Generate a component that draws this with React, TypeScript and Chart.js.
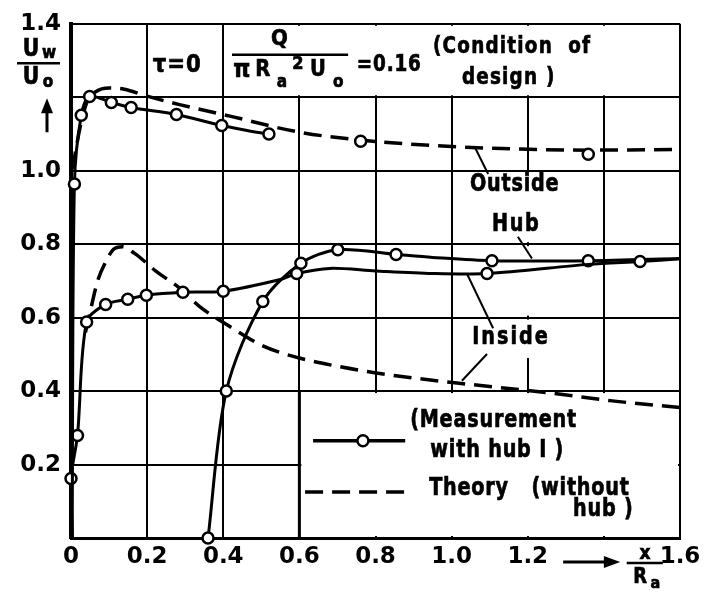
import React, { useEffect, useRef } from 'react';
import { Chart, registerables } from 'chart.js';

Chart.register(...registerables);

// ---- data ----
const outsideMeasX = [0.003, 0.009, 0.027, 0.049, 0.106, 0.158, 0.277, 0.396, 0.52, 0.761, 1.359];
const outsideMeasY = [0.0, 0.964, 1.151, 1.202, 1.186, 1.172, 1.153, 1.123, 1.1, 1.08, 1.045];
const outsideMeasMark = [0, 1, 1, 1, 1, 1, 1, 1, 1, 1, 1];

const insideMeasX = [0.004, 0.0, 0.017, 0.041, 0.091, 0.149, 0.198, 0.294, 0.4, 0.55, 0.593, 0.68, 0.8, 0.95, 1.093, 1.36, 1.495, 1.6];
const insideMeasY = [0.0, 0.162, 0.279, 0.588, 0.636, 0.65, 0.661, 0.669, 0.672, 0.704, 0.72, 0.734, 0.727, 0.72, 0.72, 0.745, 0.753, 0.76];
const insideMeasMark = [0, 1, 1, 1, 1, 1, 1, 1, 1, 0, 1, 0, 0, 0, 1, 0, 1, 0];

const hubMeasX = [0.36, 0.408, 0.504, 0.604, 0.701, 0.854, 0.95, 1.106, 1.359, 1.6];
const hubMeasY = [0.0, 0.4, 0.644, 0.748, 0.785, 0.772, 0.764, 0.755, 0.755, 0.761];
const hubMeasMark = [1, 1, 1, 1, 1, 1, 0, 1, 1, 0];

const theoryOutX = [0.0, 0.006, 0.015, 0.028, 0.043, 0.065, 0.1, 0.14, 0.2, 0.285, 0.42, 0.6, 0.764, 0.943, 1.109, 1.359, 1.6];
const theoryOutY = [0.93, 1.01, 1.07, 1.137, 1.19, 1.215, 1.225, 1.222, 1.203, 1.18, 1.148, 1.105, 1.083, 1.069, 1.061, 1.056, 1.058];

const theoryInX = [0.038, 0.049, 0.07, 0.088, 0.114, 0.135, 0.167, 0.224, 0.286, 0.338, 0.408, 0.504, 0.6, 0.698, 0.798, 0.898, 1.014, 1.258, 1.416, 1.6];
const theoryInY = [0.56, 0.61, 0.7, 0.745, 0.788, 0.793, 0.775, 0.726, 0.68, 0.63, 0.582, 0.523, 0.49, 0.468, 0.45, 0.436, 0.422, 0.395, 0.374, 0.355];

const xTickLabels = ['0', '0.2', '0.4', '0.6', '0.8', '1.0', '1.2', '', '1.6'];
const yTickLabels = ['', '0.2', '0.4', '0.6', '0.8', '1.0', '', '1.4'];

const FONT = 'DejaVu Sans';

function pts(xs: number[], ys: number[]) {
  return xs.map((x, i) => ({ x, y: ys[i] }));
}

function txt(ctx: CanvasRenderingContext2D, s: string, x: number, y: number, size: number, align: CanvasTextAlign = 'left', sx = 0.8, spacing = 1) {
  ctx.save();
  ctx.font = `bold ${size}px "${FONT}"`;
  ctx.textAlign = align;
  ctx.textBaseline = 'middle';
  ctx.fillStyle = '#000';
  ctx.strokeStyle = '#000';
  ctx.lineWidth = 0.7;
  (ctx as any).letterSpacing = `${spacing}px`;
  ctx.translate(x, y);
  ctx.scale(sx, 1);
  ctx.fillText(s, 0, 0);
  ctx.strokeText(s, 0, 0);
  ctx.restore();
}

function line(ctx: CanvasRenderingContext2D, x1: number, y1: number, x2: number, y2: number, w = 2, dash: number[] = []) {
  ctx.save();
  ctx.strokeStyle = '#000';
  ctx.lineWidth = w;
  ctx.setLineDash(dash);
  ctx.beginPath();
  ctx.moveTo(x1, y1);
  ctx.lineTo(x2, y2);
  ctx.stroke();
  ctx.restore();
}

function tri(ctx: CanvasRenderingContext2D, p: number[][]) {
  ctx.save();
  ctx.fillStyle = '#000';
  ctx.beginPath();
  ctx.moveTo(p[0][0], p[0][1]);
  ctx.lineTo(p[1][0], p[1][1]);
  ctx.lineTo(p[2][0], p[2][1]);
  ctx.closePath();
  ctx.fill();
  ctx.restore();
}

const overlay = {
  id: 'overlay',
  beforeDatasetsDraw(chart: any) {
    const ctx: CanvasRenderingContext2D = chart.ctx;
    const xs = chart.scales.x, ys = chart.scales.y;
    const X = (v: number) => xs.getPixelForValue(v);
    const Y = (v: number) => ys.getPixelForValue(v);
    ctx.save();
    ctx.fillStyle = '#fff';
    // title area
    ctx.fillRect(X(0.4) + 2, Y(1.4) + 2, X(1.6) - X(0.4) - 4, Y(1.2) - Y(1.4) - 4);
    // legend box
    ctx.fillRect(X(0.6) + 2, Y(0.4) + 2, X(1.6) - X(0.6) - 4, Y(0) - Y(0.4) - 4);
    // gap in 1.2 gridline behind labels
    ctx.fillRect(X(1.2) - 2, Y(1.0) + 2, 4, Y(0.8) - Y(1.0) - 4);
    ctx.fillRect(X(1.2) - 2, Y(0.8) + 2, 4, Y(0.6) - Y(0.8) - 4);
    ctx.fillRect(X(1.2) - 2, Y(0.6) + 2, 4, Y(0.49) - Y(0.6) - 2);
    ctx.restore();
    // thicker legend box left edge
    line(ctx, X(0.6), Y(0.4), X(0.6), Y(0), 3);
  },
  afterDatasetsDraw(chart: any) {
    const ctx: CanvasRenderingContext2D = chart.ctx;
    const xs = chart.scales.x, ys = chart.scales.y;
    const X = (v: number) => xs.getPixelForValue(v);
    const Y = (v: number) => ys.getPixelForValue(v);
    const { left, bottom } = chart.chartArea;

    // title
    txt(ctx, 'τ=0', X(0.215), Y(1.286), 25, 'left', 0.85);
    txt(ctx, 'Q', X(0.549), Y(1.357), 22, 'center', 0.9);
    line(ctx, X(0.423), Y(1.316), X(0.728), Y(1.316), 2.5);
    txt(ctx, 'π', X(0.449), Y(1.273), 24, 'center', 0.9, 0);
    txt(ctx, 'R', X(0.504), Y(1.273), 23, 'center', 0.85, 0);
    txt(ctx, 'a', X(0.554), Y(1.24), 17, 'center', 0.9, 0);
    txt(ctx, '2', X(0.596), Y(1.289), 18, 'center', 0.9, 0);
    txt(ctx, 'U', X(0.649), Y(1.273), 23, 'center', 0.85, 0);
    txt(ctx, 'o', X(0.702), Y(1.24), 17, 'center', 0.9, 0);
    txt(ctx, '=0.16', X(0.751), Y(1.289), 23, 'left', 0.8);
    txt(ctx, '(Condition  of', X(0.951), Y(1.338), 23, 'left', 0.8, 1.5);
    txt(ctx, 'design )', X(1.027), Y(1.251), 23, 'left', 0.8, 1.5);

    // curve labels
    txt(ctx, 'Outside', X(1.048), Y(0.961), 24, 'left', 0.8);
    line(ctx, X(1.061), Y(1.064), X(1.096), Y(0.991), 2);
    txt(ctx, 'Hub', X(1.106), Y(0.853), 24, 'left', 0.8, 2);
    line(ctx, X(1.174), Y(0.82), X(1.211), Y(0.761), 2);
    txt(ctx, 'Inside', X(1.054), Y(0.544), 24, 'left', 0.8, 2.5);
    line(ctx, X(1.109), Y(0.571), X(1.04), Y(0.72), 2);
    line(ctx, X(1.093), Y(0.501), X(1.027), Y(0.428), 2);

    // legend
    line(ctx, X(0.636), Y(0.265), X(0.878), Y(0.265), 3.5);
    ctx.save();
    ctx.beginPath();
    ctx.arc(X(0.767), Y(0.265), 5.5, 0, Math.PI * 2);
    ctx.fillStyle = '#fff';
    ctx.fill();
    ctx.lineWidth = 2.5;
    ctx.strokeStyle = '#000';
    ctx.stroke();
    ctx.restore();
    line(ctx, X(0.615), Y(0.125), X(0.878), Y(0.125), 3.5, [18, 9]);
    txt(ctx, '(Measurement', X(0.891), Y(0.32), 24, 'left', 0.8);
    txt(ctx, 'with hub I )', X(0.944), Y(0.238), 24, 'left', 0.8);
    txt(ctx, 'Theory   (without', X(0.941), Y(0.135), 24, 'left', 0.8);
    txt(ctx, 'hub )', X(1.319), Y(0.076), 24, 'left', 0.8);

    // y-axis title: Uw / Uo with arrow
    const yc = Y(1.2);
    txt(ctx, 'U', left - 40, yc - 47, 24, 'center', 0.85, 0);
    txt(ctx, 'w', left - 22, yc - 44, 17, 'center', 0.9, 0);
    line(ctx, left - 54, yc - 34, left - 11, yc - 34, 2.5);
    txt(ctx, 'U', left - 40, yc - 19, 24, 'center', 0.85, 0);
    txt(ctx, 'o', left - 23, yc - 15, 17, 'center', 0.9, 0);
    line(ctx, left - 24, yc + 35, left - 24, yc + 12, 3);
    tri(ctx, [[left - 24, yc + 1], [left - 30, yc + 16], [left - 18, yc + 16]]);

    // x-axis title: arrow + x / Ra
    const ya = bottom + 24;
    line(ctx, X(1.293), ya, X(1.41), ya, 3);
    tri(ctx, [[X(1.443), ya], [X(1.40), ya - 6], [X(1.40), ya + 6]]);
    txt(ctx, 'x', X(1.508), bottom + 16, 19, 'center', 0.9, 0);
    line(ctx, X(1.46), bottom + 25, X(1.555), bottom + 25, 2.5);
    txt(ctx, 'R', X(1.495), bottom + 40, 21, 'center', 0.85, 0);
    txt(ctx, 'a', X(1.535), bottom + 46, 16, 'center', 0.9, 0);
  },
};

export default function App() {
  const ref = useRef<HTMLCanvasElement>(null);
  useEffect(() => {
    const canvas = ref.current!;
    const tickFont = { family: FONT, size: 23, weight: 'bold' as const };
    const measured = (label: string, xs: number[], ys: number[], mark: number[], extra: any = {}) => ({
      label,
      data: pts(xs, ys),
      borderColor: '#000',
      borderWidth: 3,
      tension: 0.3,
      pointRadius: mark.map((m) => (m ? 5.5 : 0)),
      pointBackgroundColor: '#fff',
      pointBorderColor: '#000',
      pointBorderWidth: 2.5,
      clip: false,
      ...extra,
    });
    const theory = (label: string, xs: number[], ys: number[]) => ({
      label,
      data: pts(xs, ys),
      borderColor: '#000',
      borderWidth: 3.5,
      borderDash: [18, 9],
      cubicInterpolationMode: 'monotone',
      pointRadius: 0,
      clip: false,
    });
    const chart = new Chart(canvas, {
      type: 'line',
      data: {
        datasets: [
          measured('Outside (measurement)', outsideMeasX, outsideMeasY, outsideMeasMark, {
            segment: { borderColor: (c: any) => (c.p0.parsed.x >= 0.5 ? 'rgba(0,0,0,0)' : '#000') },
          }),
          measured('Inside (measurement)', insideMeasX, insideMeasY, insideMeasMark),
          measured('Hub (measurement)', hubMeasX, hubMeasY, hubMeasMark),
          theory('Outside (theory)', theoryOutX, theoryOutY),
          theory('Inside (theory)', theoryInX, theoryInY),
        ] as any,
      },
      options: {
        animation: false,
        responsive: false,
        events: [],
        layout: { padding: { top: 21, right: 29, left: 0, bottom: 0 } },
        plugins: { legend: { display: false }, tooltip: { enabled: false } },
        scales: {
          x: {
            type: 'linear',
            min: 0,
            max: 1.6,
            afterFit: (s: any) => { s.height = 57; },
            ticks: {
              stepSize: 0.2,
              autoSkip: false,
              maxRotation: 0,
              padding: 5,
              color: '#000',
              font: tickFont,
              callback: (_v: any, i: number) => xTickLabels[i],
            },
            grid: { color: '#000', lineWidth: 2, drawTicks: false },
            border: { color: '#000', width: 3 },
          },
          y: {
            type: 'linear',
            min: 0,
            max: 1.4,
            afterFit: (s: any) => { s.width = 71; },
            ticks: {
              stepSize: 0.2,
              autoSkip: false,
              padding: 10,
              color: '#000',
              font: tickFont,
              callback: (_v: any, i: number) => yTickLabels[i],
            },
            grid: { color: '#000', lineWidth: 2, drawTicks: false },
            border: { color: '#000', width: 4 },
          },
        },
      } as any,
      plugins: [overlay],
    });
    return () => chart.destroy();
  }, []);
  return (
    <div style={{ position: 'fixed', left: 0, top: 0, width: 709, height: 595, background: '#fff' }}>
      <canvas ref={ref} width={709} height={595} style={{ width: 709, height: 595, display: 'block' }} />
    </div>
  );
}
